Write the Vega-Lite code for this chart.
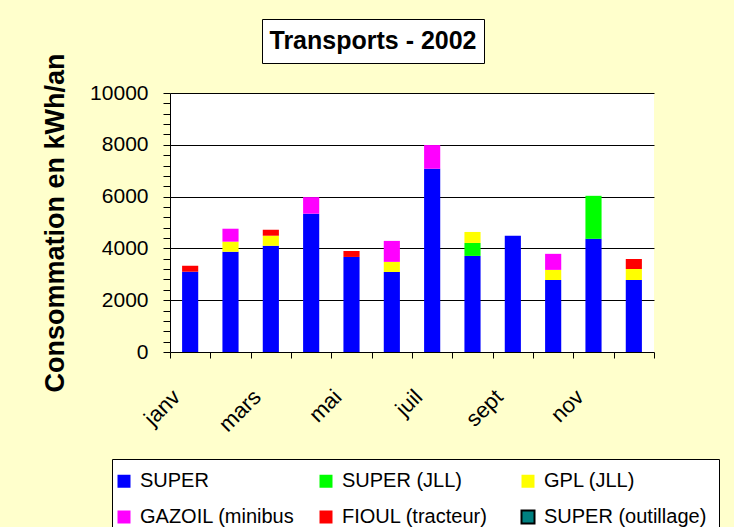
{
  "$schema": "https://vega.github.io/schema/vega-lite/v6.json",
  "background": "#FFFFCC",
  "padding": {"left": 41, "top": 18, "right": 30, "bottom": 0},
  "config": {"font": "Liberation Sans", "concat": {"spacing": 21}},
  "datasets": {
    "titre": [{"t": "Transports - 2002"}],
    "vide": [],
    "conso": [
      {"mois": "janv", "type": "SUPER", "kwh": 3100},
      {"mois": "janv", "type": "FIOUL (tracteur)", "kwh": 230},
      {"mois": "févr", "type": "SUPER", "kwh": 3870},
      {"mois": "févr", "type": "GPL (JLL)", "kwh": 390},
      {"mois": "févr", "type": "GAZOIL (minibus", "kwh": 500},
      {"mois": "mars", "type": "SUPER", "kwh": 4100},
      {"mois": "mars", "type": "GPL (JLL)", "kwh": 390},
      {"mois": "mars", "type": "FIOUL (tracteur)", "kwh": 230},
      {"mois": "avr", "type": "SUPER", "kwh": 5340},
      {"mois": "avr", "type": "GAZOIL (minibus", "kwh": 640},
      {"mois": "mai", "type": "SUPER", "kwh": 3670},
      {"mois": "mai", "type": "FIOUL (tracteur)", "kwh": 230},
      {"mois": "juin", "type": "SUPER", "kwh": 3090},
      {"mois": "juin", "type": "GPL (JLL)", "kwh": 390},
      {"mois": "juin", "type": "GAZOIL (minibus", "kwh": 810},
      {"mois": "juil", "type": "SUPER", "kwh": 7075},
      {"mois": "juil", "type": "GAZOIL (minibus", "kwh": 915},
      {"mois": "août", "type": "SUPER", "kwh": 3710},
      {"mois": "août", "type": "SUPER (JLL)", "kwh": 500},
      {"mois": "août", "type": "GPL (JLL)", "kwh": 425},
      {"mois": "sept", "type": "SUPER", "kwh": 4485},
      {"mois": "oct", "type": "SUPER", "kwh": 2780},
      {"mois": "oct", "type": "GPL (JLL)", "kwh": 390},
      {"mois": "oct", "type": "GAZOIL (minibus", "kwh": 620},
      {"mois": "nov", "type": "SUPER", "kwh": 4370},
      {"mois": "nov", "type": "SUPER (JLL)", "kwh": 1660},
      {"mois": "déc", "type": "SUPER", "kwh": 2780},
      {"mois": "déc", "type": "GPL (JLL)", "kwh": 425},
      {"mois": "déc", "type": "FIOUL (tracteur)", "kwh": 385}
    ]
  },
  "spacing": -12,
  "vconcat": [
    {
      "hconcat": [
        {
          "data": {"name": "vide"},
          "width": 70,
          "height": 44,
          "view": {"fill": null, "stroke": null},
          "mark": "point",
          "encoding": {}
        },
        {
          "data": {"name": "titre"},
          "width": 222,
          "height": 44,
          "view": {"fill": "white", "stroke": "black", "strokeWidth": 1},
          "mark": {"type": "text", "fontWeight": "bold", "fontSize": 25, "color": "black"},
          "encoding": {"text": {"field": "t", "type": "nominal"}}
        }
      ]
    },
    {
      "data": {"name": "conso"},
      "width": 484,
      "height": 259,
      "view": {"fill": "white", "stroke": null},
      "transform": [
        {"calculate": "indexof(['SUPER','SUPER (JLL)','GPL (JLL)','GAZOIL (minibus','FIOUL (tracteur)','SUPER (outillage)'], datum.type)", "as": "rang"}
      ],
      "mark": {"type": "bar", "width": {"band": 0.4}},
      "encoding": {
        "x": {
          "field": "mois",
          "type": "nominal",
          "sort": ["janv", "févr", "mars", "avr", "mai", "juin", "juil", "août", "sept", "oct", "nov", "déc"],
          "scale": {"paddingInner": 0, "paddingOuter": 0},
          "axis": {
            "title": null,
            "labelAngle": -45,
            "labelAlign": "right",
            "labelBaseline": "middle",
            "labelOffset": -14,
            "labelExpr": "indexof(['janv','mars','mai','juil','sept','nov'], datum.value) >= 0 ? datum.label : ''",
            "tickBand": "extent",
            "tickSize": 6,
            "tickColor": "black",
            "domainColor": "black",
            "labelFontSize": 22,
            "labelColor": "black",
            "labelPadding": 35,
            "grid": false
          }
        },
        "y": {
          "field": "kwh",
          "type": "quantitative",
          "stack": "zero",
          "scale": {"domain": [0, 10000], "nice": false},
          "axis": {
            "title": "Consommation en kWh/an",
            "titleFontSize": 27,
            "titleFontWeight": "bold",
            "titleColor": "black",
            "titlePadding": 20,
            "values": [0, 400, 800, 1200, 1600, 2000, 2400, 2800, 3200, 3600, 4000, 4400, 4800, 5200, 5600, 6000, 6400, 6800, 7200, 7600, 8000, 8400, 8800, 9200, 9600, 10000],
            "format": "d",
            "labelExpr": "datum.value % 2000 === 0 ? datum.label : ''",
            "labelFontSize": 21,
            "labelColor": "black",
            "labelPadding": 15,
            "tickSize": 7,
            "tickColor": "black",
            "domainColor": "black",
            "grid": true,
            "gridColor": "black",
            "gridOpacity": {"condition": {"test": "datum.value % 2000 === 0 && datum.value > 0", "value": 1}, "value": 0}
          }
        },
        "order": {"field": "rang", "type": "quantitative", "sort": "ascending"},
        "color": {
          "field": "type",
          "type": "nominal",
          "scale": {
            "domain": ["SUPER", "SUPER (JLL)", "GPL (JLL)", "GAZOIL (minibus", "FIOUL (tracteur)", "SUPER (outillage)"],
            "range": ["#0000FF", "#00FF00", "#FFFF00", "#FF00FF", "#FF0000", "#008080"]
          },
          "legend": {
            "orient": "none",
            "legendX": -58,
            "legendY": 440,
            "direction": "horizontal",
            "columns": 3,
            "gridAlign": "all",
            "title": null,
            "fillColor": "white",
            "strokeColor": "black",
            "padding": 12,
            "symbolType": "square",
            "symbolSize": 169,
            "symbolOffset": -10,
            "labelFontSize": 20,
            "labelColor": "black",
            "columnPadding": 12,
            "rowPadding": 14,
            "labelOffset": 6,
            "labelLimit": 300,
            "encode": {"symbols": {"update": {"stroke": {"signal": "datum.value === 'SUPER (outillage)' ? 'black' : 'transparent'"}, "strokeWidth": {"value": 2}}}}
          }
        }
      }
    }
  ]
}
